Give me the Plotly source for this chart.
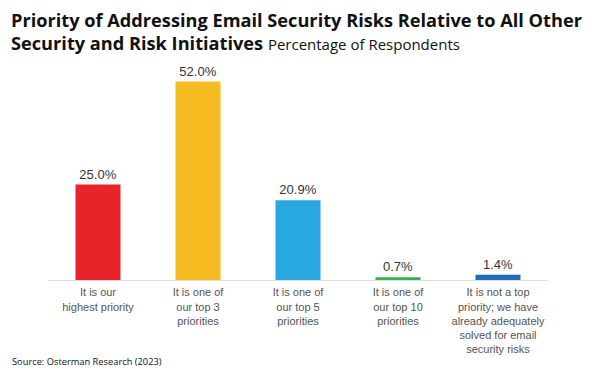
import plotly.graph_objects as go

categories = [
    "It is our<br>highest priority",
    "It is one of<br>our top 3<br>priorities",
    "It is one of<br>our top 5<br>priorities",
    "It is one of<br>our top 10<br>priorities",
    "It is not a top<br>priority; we have<br>already adequately<br>solved for email<br>security risks",
]
values = [25.0, 52.0, 20.9, 0.7, 1.4]
colors = ["#E8232A", "#F6BB21", "#29A8DF", "#3AAE4C", "#1F6EB3"]

L, R, T, B = 48, 52, 51, 95
W, H = 600, 375
pw = W - L - R
ph = H - T - B

def px(x, y):
    return (x - L) / pw, (H - y - B) / ph

fig = go.Figure(go.Bar(
    x=list(range(len(categories))),
    y=values,
    marker=dict(color=colors, line=dict(width=0)),
    width=0.45,
    text=[f"{v:.1f}%" for v in values],
    textposition="outside",
    textfont=dict(family="Liberation Sans, Arial", size=13, color="#333333"),
    cliponaxis=False,
))

ann = []
def add(text, x, y, size, color="#111111"):
    fx, fy = px(x, y)
    ann.append(dict(text=text, x=fx, y=fy, xref="paper", yref="paper",
                    xanchor="left", yanchor="top", showarrow=False, align="left",
                    font=dict(family="Open Sans, Noto Sans", size=size, color=color)))

add("<b>Priority of Addressing Email Security Risks Relative to All Other</b>", 9, 6, 18.2)
add("<b>Security and Risk Initiatives</b> <span style='font-size:15px'>Percentage of Respondents</span>", 9, 29, 18.2)
add("Source: Osterman Research (2023)", 10, 353, 9.3)

fig.update_layout(
    width=W, height=H,
    margin=dict(l=L, r=R, t=T, b=B, autoexpand=False),
    plot_bgcolor="white", paper_bgcolor="white",
    showlegend=False,
    xaxis=dict(
        tickmode="array", tickvals=list(range(len(categories))), ticktext=categories,
        range=[-0.5, 4.5], showgrid=False, zeroline=False, automargin=False,
        showline=True, linecolor="#DDDDDD", linewidth=1,
        ticks="", ticklen=0, ticklabelstandoff=2,
        tickfont=dict(family="Liberation Sans, Arial", size=11, color="#555555"),
    ),
    yaxis=dict(range=[0, 60], visible=False, automargin=False),
    annotations=ann,
)

fig.write_html("out.html", config={"displayModeBar": False},
               post_script="document.body.style.margin='0';")
